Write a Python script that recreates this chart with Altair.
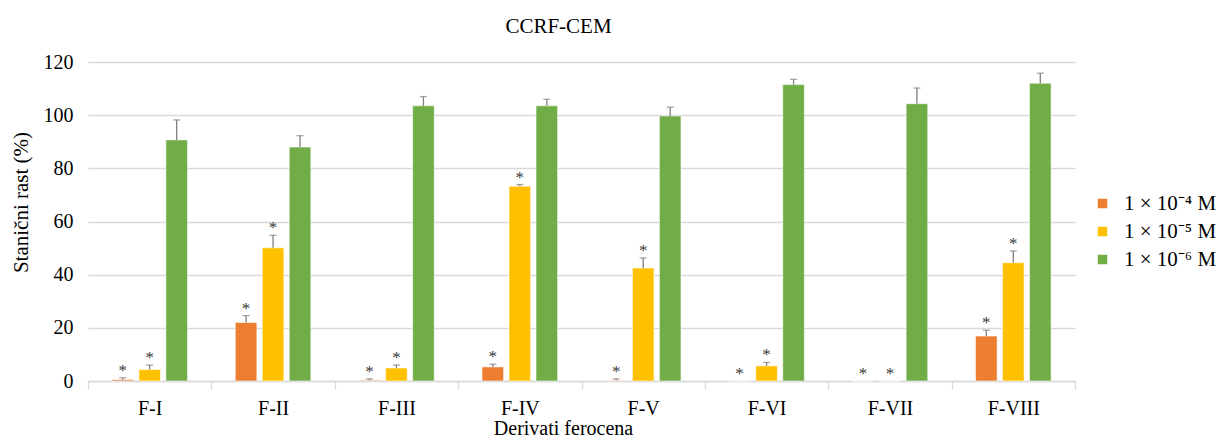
import altair as alt
import pandas as pd

categories = ["F-I", "F-II", "F-III", "F-IV", "F-V", "F-VI", "F-VII", "F-VIII"]
series = ["1 × 10⁻⁴ M", "1 × 10⁻⁵ M", "1 × 10⁻⁶ M"]
colors = ["#ED7D31", "#FFC000", "#70AD47"]

# mean values (%)
v_e4 = [0.5, 22.0, 0.3, 5.3, 0.2, 0.0, 0.0, 16.9]
v_e5 = [4.3, 50.1, 4.9, 73.3, 42.5, 5.7, 0.0, 44.5]
v_e6 = [90.7, 88.0, 103.5, 103.5, 99.7, 111.5, 104.3, 112.0]
# upper error (SD)
e_e4 = [0.7, 2.6, 0.5, 1.0, 0.6, 0.0, 0.0, 2.2]
e_e5 = [1.7, 4.7, 1.1, 0.6, 3.8, 1.3, 0.0, 4.4]
e_e6 = [7.5, 4.3, 3.5, 2.5, 3.3, 2.0, 5.9, 3.8]
# significance marks
sig_e4 = [True] * 8
sig_e5 = [True] * 8
sig_e6 = [False] * 8

rows = []
for s, vals, errs, sigs in zip(series, [v_e4, v_e5, v_e6], [e_e4, e_e5, e_e6],
                               [sig_e4, sig_e5, sig_e6]):
    for c, v, e, g in zip(categories, vals, errs, sigs):
        rows.append({"cat": c, "series": s, "value": v, "err": e,
                     "top": v + e, "sig": g})
df = pd.DataFrame(rows)

W, H = 987, 319
FONT = "Liberation Serif"

x = alt.X("cat:N", sort=categories, title="Derivati ferocena",
          scale=alt.Scale(paddingInner=0, paddingOuter=0),
          axis=alt.Axis(labelAngle=0, tickBand="extent", tickSize=8,
                        tickColor="#d9d9d9", domainColor="#d9d9d9",
                        domainWidth=1.3, tickWidth=1.3, labelPadding=9,
                        titlePadding=0, titleFontSize=20, titleX=475,
                        grid=False))
xoff = alt.XOffset("series:N", sort=series,
                   scale=alt.Scale(domain=series, paddingInner=0.2,
                                   paddingOuter=0.885))
y_scale = alt.Scale(domain=[0, 120])

base = alt.Chart(df)

bars = base.mark_bar(stroke="white", strokeWidth=0.8, strokeOpacity=0.7).encode(
    x=x, xOffset=xoff,
    y=alt.Y("value:Q", scale=y_scale, title="Stanični rast (%)",
            axis=alt.Axis(values=[0, 20, 40, 60, 80, 100, 120], grid=True,
                          gridColor="#d9d9d9", gridWidth=1.3, domain=False,
                          ticks=False, labelPadding=15, titlePadding=12,
                          titleY=140)),
    color=alt.Color("series:N", sort=series,
                    scale=alt.Scale(domain=series, range=colors),
                    legend=alt.Legend(title=None, orient="none", legendX=1004,
                                      legendY=131, symbolType="square",
                                      symbolSize=90, symbolStrokeWidth=0,
                                      labelFont=FONT, labelFontSize=21,
                                      labelColor="#000", rowPadding=6,
                                      labelOffset=11)),
)

errs = base.transform_filter("datum.err > 0")
err_rule = errs.mark_rule(color="#808080", strokeWidth=1.3).encode(
    x=x, xOffset=xoff, y=alt.Y("value:Q", scale=y_scale), y2="top:Q")
err_cap = errs.mark_tick(color="#808080", thickness=1.3, size=7,
                         orient="horizontal").encode(
    x=x, xOffset=xoff, y=alt.Y("top:Q", scale=y_scale))

stars = base.transform_filter("datum.sig").mark_text(
    text="*", font=FONT, fontSize=17, fill="#3a3a3a", baseline="middle",
    dy=-7).encode(x=x, xOffset=xoff, y=alt.Y("top:Q", scale=y_scale))

chart = alt.layer(bars, err_rule, err_cap, stars).properties(
    width=W, height=H,
    title=alt.TitleParams("CCRF-CEM", font=FONT, fontSize=21,
                          fontWeight="normal", color="#000", dx=-23,
                          offset=15),
    autosize=alt.AutoSizeParams(type="none"),
    padding={"left": 80, "top": 54, "right": 143, "bottom": 59},
).configure_view(stroke=None).configure_axis(
    labelFont=FONT, labelFontSize=20, labelColor="#000",
    titleFont=FONT, titleFontSize=21, titleFontWeight="normal",
    titleColor="#000")

chart.save("out.html", embed_options={"renderer": "svg", "actions": False})
